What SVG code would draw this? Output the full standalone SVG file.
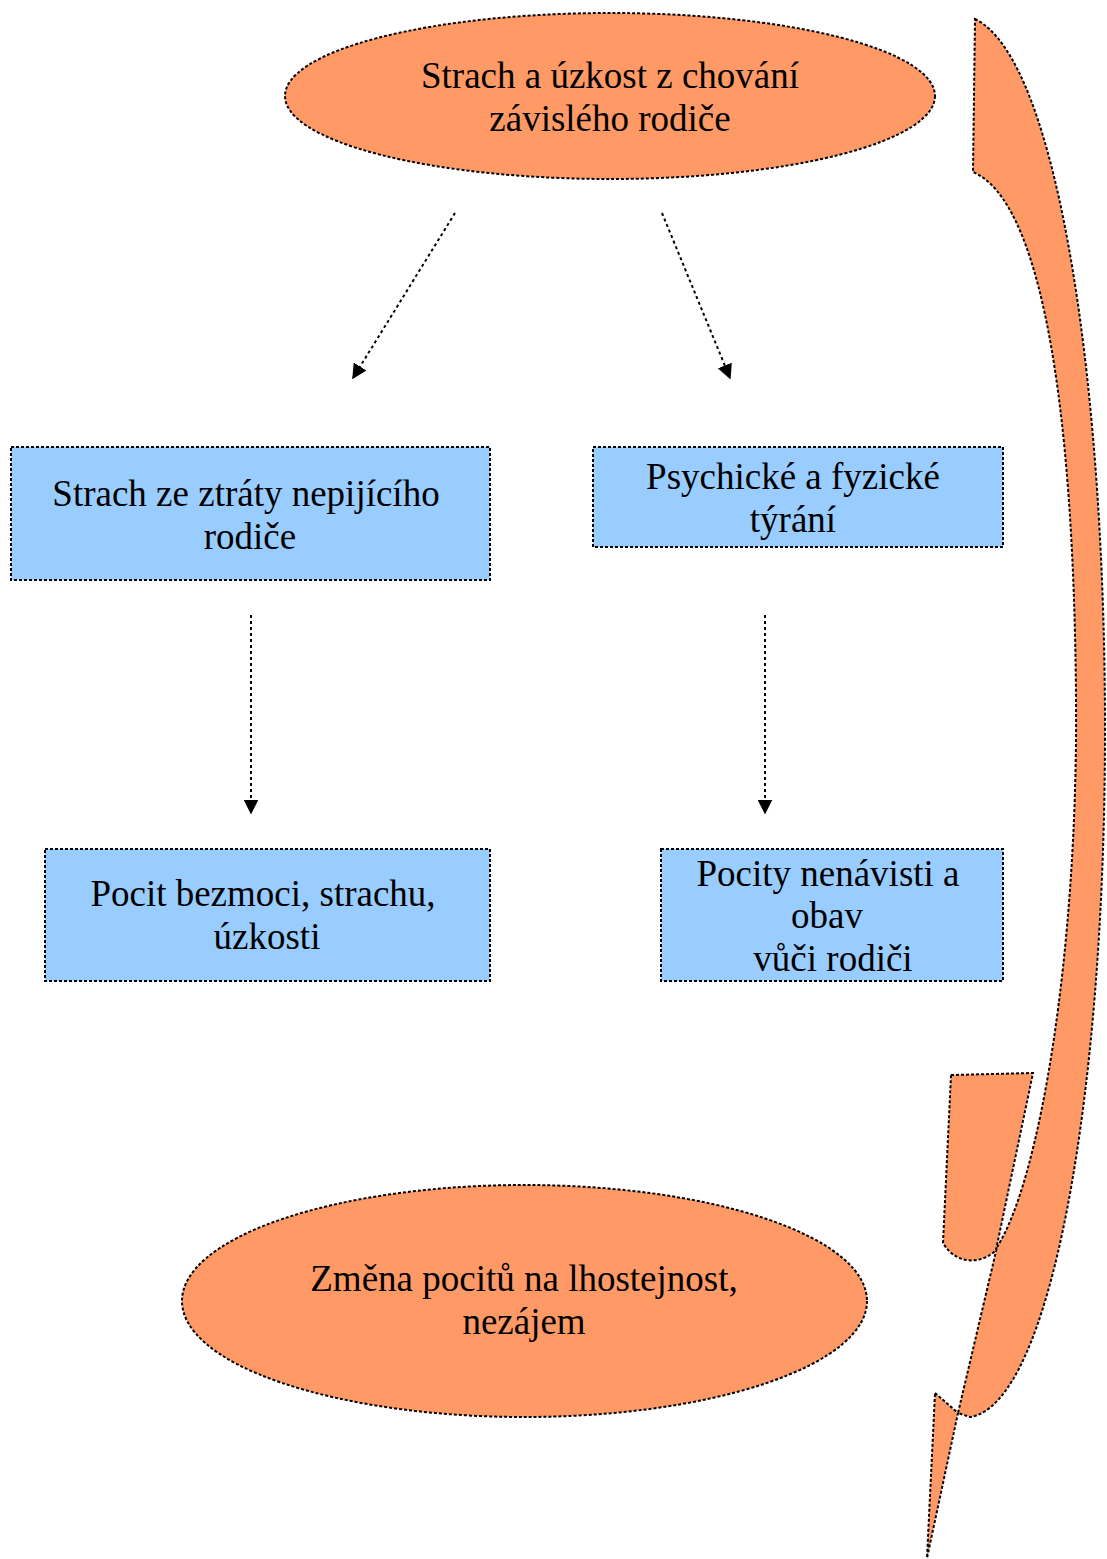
<svg xmlns="http://www.w3.org/2000/svg" width="1107" height="1559" viewBox="0 0 1107 1559">
<style>
.shape{stroke:#000;stroke-width:2;stroke-dasharray:3 2}
.org{fill:#FF9966}
.blu{fill:#99CCFF}
.t{font-family:"Liberation Serif","Times New Roman",serif;font-size:37px;fill:#000;text-anchor:middle}
.con{stroke:#000;stroke-width:2;stroke-dasharray:3 3;fill:none}
</style>
<defs>
<marker id="ah2" viewBox="0 0 10 10" refX="9" refY="5" markerWidth="15" markerHeight="15" markerUnits="userSpaceOnUse" orient="auto">
<path d="M0,0 L10,5 L0,10 Z" fill="#000"/>
</marker>
</defs>
<g id="curved-arrow">
<path class="shape org" d="M975,19 C1060,60 1106,400 1105,740 C1104,1100 1050,1405 970,1417 L958,1413 L997,1247 C1040,1180 1078,950 1076,700 C1074,400 1040,200 973,172 Z"/>
<path class="shape org" d="M951,1075 L1033,1073 L996,1250 C985,1262 958,1268 943,1243 Z"/>
<path class="shape org" d="M935,1393 L958,1413 L927,1558 Z"/>
</g>
<g id="n1">
<ellipse class="shape org" cx="610" cy="96" rx="325" ry="83"/>
<text class="t" x="610" y="88">Strach a úzkost z chování</text>
<text class="t" x="610" y="131">závislého rodiče</text>
</g>
<g id="n2">
<rect class="shape blu" x="11" y="447" width="479" height="133"/>
<text class="t" x="246" y="506">Strach ze ztráty nepijícího</text>
<text class="t" x="250" y="549">rodiče</text>
</g>
<g id="n3">
<rect class="shape blu" x="593" y="447" width="410" height="100"/>
<text class="t" x="793" y="489">Psychické a fyzické</text>
<text class="t" x="793" y="532">týrání</text>
</g>
<g id="n4">
<rect class="shape blu" x="45" y="849" width="445" height="132"/>
<text class="t" x="263" y="906">Pocit bezmoci, strachu,</text>
<text class="t" x="267" y="949">úzkosti</text>
</g>
<g id="n5">
<rect class="shape blu" x="661" y="849" width="342" height="132"/>
<text class="t" x="828" y="886">Pocity nenávisti a</text>
<text class="t" x="827" y="928">obav</text>
<text class="t" x="833" y="971">vůči rodiči</text>
</g>
<g id="n6">
<ellipse class="shape org" cx="524.5" cy="1301" rx="342.5" ry="116"/>
<text class="t" x="524" y="1291">Změna pocitů na lhostejnost,</text>
<text class="t" x="524" y="1334">nezájem</text>
</g>
<g id="connectors">
<path class="con" d="M455,213 L353,378" marker-end="url(#ah2)"/>
<path class="con" d="M662,213 L730,378" marker-end="url(#ah2)"/>
<path class="con" d="M251,615 L251,813" marker-end="url(#ah2)"/>
<path class="con" d="M765,615 L765,813" marker-end="url(#ah2)"/>
</g>
</svg>
